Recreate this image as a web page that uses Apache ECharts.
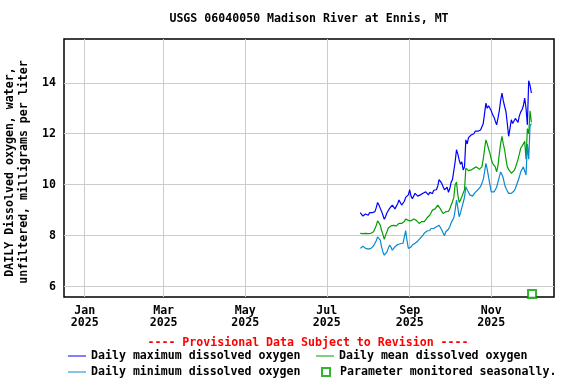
<!DOCTYPE html>
<html>
<head>
<meta charset="utf-8">
<script src="https://cdn.jsdelivr.net/npm/echarts@6/dist/echarts.min.js"></script>
<style>
html,body{margin:0;padding:0;background:#fff;}
#chart{width:576px;height:384px;}
</style>
</head>
<body>
<div id="chart"></div>
<script>
// ---- Data ----
const chartTitle = 'USGS 06040050 Madison River at Ennis, MT';
const provisionalText = '---- Provisional Data Subject to Revision ----';
const yAxisName = 'DAILY Dissolved oxygen, water,\nunfiltered, milligrams per liter';
const firstDate = '2025-07-26';
const maxDO = [
  8.9, 8.85, 8.77, 8.8, 8.85, 8.87, 8.8, 8.9, 8.88, 8.9,
  8.92, 8.94, 9.1, 9.3, 9.2, 9.07, 8.95, 8.8, 8.64, 8.75,
  8.9, 8.95, 9.07, 9.1, 9.2, 9.15, 9.05, 9.1, 9.25, 9.4,
  9.3, 9.2, 9.25, 9.35, 9.5, 9.46, 9.6, 9.8, 9.55, 9.45,
  9.55, 9.66, 9.6, 9.55, 9.62, 9.6, 9.58, 9.66, 9.7, 9.72,
  9.68, 9.6, 9.7, 9.75, 9.65, 9.78, 9.85, 9.8, 9.95, 10.2,
  10.15, 10.05, 9.92, 9.8, 9.75, 9.9, 9.7, 9.85, 10.1, 10.2,
  10.15, 10.9, 11.37, 11.2, 10.97, 10.8, 10.9, 10.58, 10.7, 11.76,
  11.6, 11.85, 11.8, 11.95, 11.9, 12.0, 12.1, 12.15, 12.1, 12.05,
  12.15, 12.15, 12.4, 12.8, 13.2, 13.0, 13.1, 13.0, 12.9, 12.75,
  12.66, 12.5, 12.35, 12.6, 12.9, 13.3, 13.6, 13.3, 13.07, 12.87,
  12.4, 11.9, 12.2, 12.55, 12.4, 12.5, 12.6, 12.6, 12.45, 12.7,
  12.85, 12.94, 13.1, 13.4, 13.0, 12.35, 14.08, 13.9, 13.6
];
const meanDO = [
  8.09, 8.1, 8.08, 8.1, 8.09, 8.1, 8.08, 8.1, 8.09, 8.12,
  8.15, 8.22, 8.4, 8.58, 8.5, 8.41, 8.2, 8.05, 7.85, 8.02,
  8.15, 8.3, 8.35, 8.38, 8.41, 8.4, 8.35, 8.38, 8.45, 8.48,
  8.45, 8.48, 8.5, 8.55, 8.65, 8.7, 8.6, 8.54, 8.58, 8.6,
  8.65, 8.68, 8.6, 8.55, 8.48, 8.5, 8.55, 8.6, 8.55, 8.62,
  8.7, 8.75, 8.8, 8.9, 9.0, 9.0, 9.05, 9.1, 9.2, 9.15,
  9.05, 8.95, 8.87, 8.9, 8.94, 9.0, 8.95, 9.05, 9.2, 9.33,
  9.5, 10.0, 10.1, 9.6, 9.3, 9.4, 9.53, 9.5, 9.8, 10.65,
  10.6, 10.55, 10.5, 10.58, 10.6, 10.65, 10.7, 10.7, 10.65, 10.6,
  10.6, 10.7, 11.0, 11.4, 11.76, 11.6, 11.4, 11.24, 11.0, 10.84,
  10.8, 10.7, 10.5, 10.75, 11.2, 11.6, 11.9, 11.6, 11.37, 11.0,
  10.7, 10.6, 10.55, 10.45, 10.5, 10.55, 10.65, 10.7, 11.0, 11.2,
  11.43, 11.5, 11.6, 11.7, 11.0, 12.2, 12.0, 12.9, 12.45
];
const minDO = [
  7.5, 7.55, 7.58, 7.56, 7.5, 7.55, 7.47, 7.46, 7.5, 7.55,
  7.6, 7.63, 7.8, 7.95, 7.9, 7.82, 7.55, 7.36, 7.23, 7.3,
  7.36, 7.5, 7.63, 7.55, 7.43, 7.5, 7.56, 7.56, 7.65, 7.7,
  7.68, 7.72, 7.7, 7.95, 8.2, 7.8, 7.5, 7.43, 7.55, 7.63,
  7.68, 7.7, 7.75, 7.78, 7.82, 7.9, 7.95, 8.02, 8.1, 8.15,
  8.18, 8.15, 8.2, 8.28, 8.25, 8.28, 8.3, 8.35, 8.4, 8.41,
  8.35, 8.22, 8.1, 8.0, 8.15, 8.2, 8.25, 8.35, 8.5, 8.54,
  8.7, 9.0, 9.4, 9.1, 8.74, 8.9, 9.1, 9.3, 9.5, 9.92,
  9.8, 9.7, 9.6, 9.53, 9.55, 9.6, 9.7, 9.75, 9.8, 9.85,
  9.92, 9.95, 10.2, 10.5, 10.84, 10.6, 10.3, 10.0, 9.72, 9.75,
  9.72, 9.8, 9.9, 10.1, 10.3, 10.5, 10.4, 10.25, 10.0, 9.86,
  9.75, 9.66, 9.63, 9.66, 9.72, 9.75, 9.85, 10.0, 10.05, 10.3,
  10.5, 10.6, 10.7, 10.75, 10.38, 11.6, 11.0, 12.3, 12.4
];
const seasonalMark = [['2025-12-01', 5.71]];
const xTickDates = ['2025-01-01', '2025-03-01', '2025-05-01', '2025-07-01', '2025-09-01', '2025-11-01'];
const monthNames = ['Jan','Feb','Mar','Apr','May','Jun','Jul','Aug','Sep','Oct','Nov','Dec'];
const yTicks = [6, 8, 10, 12, 14];
const xRange = ['2024-12-16T12:00:00Z', '2025-12-17T22:00:00Z'];
const yRange = [5.59, 15.72];

// ---- Build ----
const DAY = 86400000;
const t0 = Date.parse(firstDate + 'T00:00:00Z');
const toPairs = arr => arr.map((v, i) => [t0 + i * DAY, v]);
const FONT = 'DejaVu Sans Mono';
const FS = 11.6;
const txt = { fontFamily: FONT, fontWeight: 'bold', fontSize: FS, color: '#000' };
const xTickValues = xTickDates.map(d => Date.parse(d + 'T00:00:00Z'));

const COL_MAX = '#0000ff', COL_MEAN = '#00a000', COL_MIN = '#0a88d0';
const lineIcon = 'path://M0,0L18,0L18,1L0,1Z';

const chart = echarts.init(document.getElementById('chart'), null, { renderer: 'canvas' });
chart.setOption({
  animation: false,
  backgroundColor: '#fff',
  grid: { left: 64, top: 39, width: 490, height: 258, outerBoundsMode: 'none', containLabel: false, show: true, borderColor: '#000', borderWidth: 1.5, backgroundColor: 'transparent' },
  graphic: [
    { type: 'text', x: 309, y: 19, style: { text: chartTitle, align: 'center', verticalAlign: 'middle', font: 'bold ' + FS + 'px ' + FONT, fill: '#000' } },
    { type: 'text', x: 308, y: 343, style: { text: provisionalText, align: 'center', verticalAlign: 'middle', font: 'bold ' + FS + 'px ' + FONT, fill: '#ff0000' } }
  ],
  legend: [
    { left: 68, top: 350, padding: 0, itemWidth: 18, itemHeight: 1, data: [{ name: 'Daily maximum dissolved oxygen', icon: lineIcon }], textStyle: txt },
    { left: 316, top: 350, padding: 0, itemWidth: 18, itemHeight: 1, data: [{ name: 'Daily mean dissolved oxygen', icon: lineIcon }], textStyle: txt },
    { left: 68, top: 366, padding: 0, itemWidth: 18, itemHeight: 1, data: [{ name: 'Daily minimum dissolved oxygen', icon: lineIcon }], textStyle: txt },
    { left: 321, top: 366, padding: 0, itemWidth: 8, itemHeight: 8, data: [{ name: 'Parameter monitored seasonally.', icon: 'rect' }], textStyle: Object.assign({}, txt, { padding: [0, 0, 0, 5] }) }
  ],
  xAxis: {
    type: 'value',
    min: Date.parse(xRange[0]),
    max: Date.parse(xRange[1]),
    axisLine: { show: false },
    axisTick: { show: false, customValues: xTickValues },
    splitLine: { show: true, lineStyle: { color: '#cccccc', width: 1 } },
    axisLabel: {
      customValues: xTickValues,
      margin: 8,
      lineHeight: 12,
      fontFamily: FONT, fontWeight: 'bold', fontSize: FS, color: '#000',
      formatter: v => { const d = new Date(v); return monthNames[d.getUTCMonth()] + '\n' + d.getUTCFullYear(); },
      hideOverlap: false
    }
  },
  yAxis: {
    type: 'value',
    min: yRange[0],
    max: yRange[1],
    name: yAxisName,
    nameLocation: 'middle',
    nameRotate: 90,
    nameGap: 28,
    nameTextStyle: { fontFamily: FONT, fontWeight: 'bold', fontSize: FS, color: '#000', lineHeight: 14, padding: [0, 8, 0, 0] },
    axisLine: { show: false },
    axisTick: { show: false, customValues: yTicks },
    splitLine: { show: true, lineStyle: { color: '#cccccc', width: 1 } },
    axisLabel: { customValues: yTicks, margin: 8, fontFamily: FONT, fontWeight: 'bold', fontSize: FS, color: '#000' }
  },
  series: [
    { name: 'Daily maximum dissolved oxygen', type: 'line', data: toPairs(maxDO), showSymbol: false, symbol: 'none', lineStyle: { color: COL_MAX, width: 1.2 }, itemStyle: { color: COL_MAX } },
    { name: 'Daily mean dissolved oxygen', type: 'line', data: toPairs(meanDO), showSymbol: false, symbol: 'none', lineStyle: { color: COL_MEAN, width: 1.2 }, itemStyle: { color: COL_MEAN } },
    { name: 'Daily minimum dissolved oxygen', type: 'line', data: toPairs(minDO), showSymbol: false, symbol: 'none', lineStyle: { color: COL_MIN, width: 1.2 }, itemStyle: { color: COL_MIN } },
    { name: 'Parameter monitored seasonally.', type: 'scatter', data: seasonalMark.map(p => [Date.parse(p[0] + 'T12:00:00Z'), p[1]]), symbol: 'rect', symbolSize: 8, itemStyle: { color: '#ffffff', borderColor: COL_MEAN, borderWidth: 2 } }
  ]
});
</script>
</body>
</html>
